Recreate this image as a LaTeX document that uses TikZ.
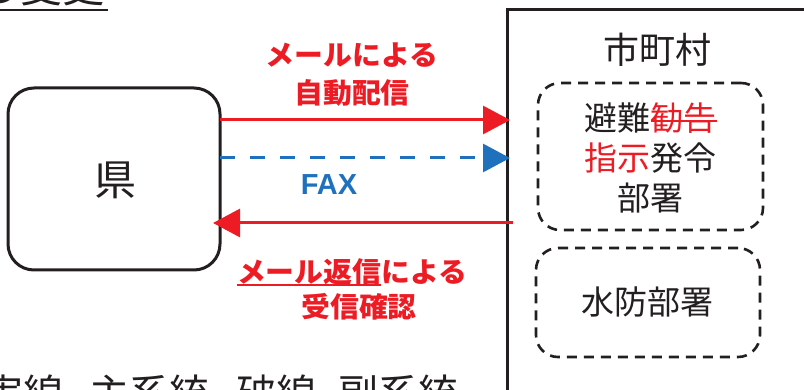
\documentclass[tikz,border=0pt]{standalone}
\usepackage{fontspec}
\setmainfont{Noto Sans CJK JP}
\newfontfamily\redjp[FakeStretch=1.03]{Noto Sans CJK JP}
\newfontfamily\faxfont{Liberation Sans}
\usetikzlibrary{arrows.meta}
\definecolor{myred}{RGB}{237,28,36}
\definecolor{myblue}{RGB}{31,113,190}
\definecolor{ink}{RGB}{35,31,32}
\newcommand\jfs[1]{\fontsize{#1}{#1}\selectfont}
\newcommand\myul[1]{\setbox0\hbox{#1}\rlap{\rule[-0.13em]{\wd0}{1.8pt}}\box0}
\newcommand\mystrk[1]{\setbox0\hbox{#1}\rlap{\rule[0.26em]{\wd0}{1.6pt}}\box0}
\begin{document}
\begin{tikzpicture}[x=1pt,y=-1pt,
  box/.style={draw=ink, line width=3pt, rounded corners=26pt, inner sep=0pt, outer sep=0pt},
  dbox/.style={draw=ink, line width=2.6pt, dash pattern=on 10pt off 7pt, rounded corners=22pt, inner sep=0pt, outer sep=0pt},
  redlbl/.style={text=myred, font=\redjp\bfseries\jfs{28}, inner sep=0pt},
  arr/.style={line width=3pt, -{Triangle[length=27pt,width=28pt]}},
  txt/.style={text=ink, inner sep=0pt}]
\useasboundingbox (0,0) rectangle (804,390);
\clip (0,0) rectangle (804,390);
% title (cut off)
\node[txt, anchor=base west, font=\jfs{42}] (title) at (-22,3) {の変更};
\draw[ink, line width=2.5pt] (-30,10) -- (108,10);
% prefecture
\node[box, minimum width=212pt, minimum height=182pt] (ken) at (114,179) {};
\node[txt, font=\jfs{42}] (kentxt) at (115,180) {県};
% municipality
\node[draw=ink, line width=3pt, minimum width=323pt, minimum height=420pt, inner sep=0pt, outer sep=0pt, anchor=north west] (muni) at (507,10) {};
\node[txt, font=\jfs{36}] (mtitle) at (657,50) {市町村};
\node[dbox, minimum width=225pt, minimum height=147pt] (hq) at (650.5,156.5) {};
\node[txt, align=center, font=\fontsize{33}{40}\selectfont] (hqtxt) at (650.5,158) {避難{\color{myred}\mystrk{勧告}}\\{\color{myred}指示}発令\\部署};
\node[dbox, minimum width=224pt, minimum height=109pt] (suibo) at (648,302.5) {};
\node[txt, font=\jfs{33}] (suibotxt) at (647,302) {水防部署};
% connectors
\coordinate (y1) at (0,120);
\coordinate (y2) at (0,158);
\coordinate (y3) at (0,223);
\draw[arr, myred] (ken.east |- y1) -- ([xshift=3pt]muni.west |- y1);
\draw[arr, myblue, dash pattern=on 15pt off 15pt] (ken.east |- y2) -- ([xshift=3pt]muni.west |- y2);
\draw[arr, myred] ([xshift=6pt]muni.west |- y3) -- ([xshift=-7pt]ken.east |- y3);
% labels
\node[redlbl] (l1) at (352,55) {メールによる};
\node[redlbl] (l2) at (352,93) {自動配信};
\node[text=myblue, font=\faxfont\bfseries\jfs{29}, inner sep=0pt] (fax) at (329,185) {FAX};
\node[redlbl] (l3) at (352,272) {\myul{メール返信}による};
\node[redlbl] (l4) at (359,307) {受信確認};
% legend (cut off)
\node[txt, anchor=base west, font=\jfs{40}] (legend) at (-17,408) {実線\hspace{26pt}主系統\hspace{27pt}破線\hspace{22pt}副系統};
\end{tikzpicture}
\end{document}
